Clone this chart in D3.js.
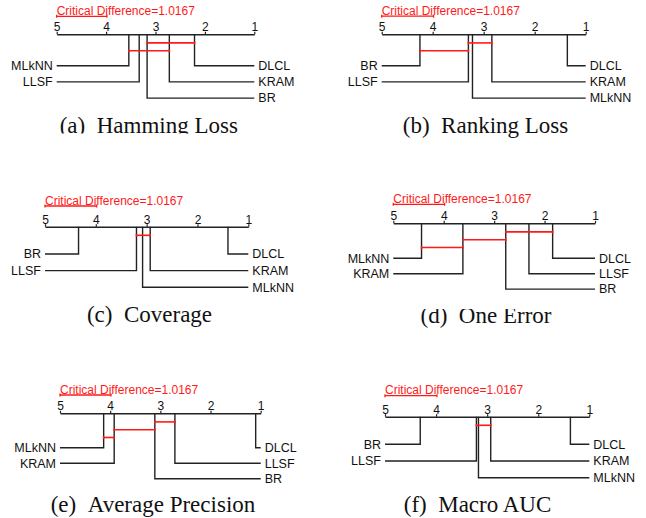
<!DOCTYPE html>
<html>
<head>
<meta charset="utf-8">
<script src="https://cdn.jsdelivr.net/npm/d3@7"></script>
<style>
  body { margin: 0; background: #fff; }
</style>
</head>
<body>
<svg id="chart" width="646" height="518"></svg>
<script>
// Data: average ranks (Friedman test) per measure, same order as methods
const methods = ["BR", "MLkNN", "LLSF", "KRAM", "DLCL"];
const hammingLoss      = [3.17, 3.54, 3.33, 2.72, 2.21];
const rankingLoss      = [4.25, 3.22, 3.30, 2.84, 1.36];
const coverage         = [4.34, 3.08, 3.20, 2.93, 1.40];
const oneError         = [2.77, 4.44, 2.31, 3.62, 1.84];
const averagePrecision = [3.11, 4.13, 2.71, 3.92, 1.10];
const macroAUC         = [4.31, 3.17, 3.21, 2.93, 1.37];

// groups of methods with no significant difference (from, to)
const hammingCliques  = [["BR", "DLCL"], ["MLkNN", "KRAM"]];
const rankingCliques  = [["LLSF", "KRAM"], ["BR", "LLSF"]];
const coverageCliques = [["LLSF", "KRAM"]];
const oneErrorCliques = [["BR", "DLCL"], ["KRAM", "BR"], ["MLkNN", "KRAM"]];
const avgPrecCliques  = [["BR", "LLSF"], ["KRAM", "BR"], ["MLkNN", "KRAM"]];
const macroAUCCliques = [["LLSF", "KRAM"]];

const criticalDifference = 1.0167;
const rankTicks = [5, 4, 3, 2, 1];
const panelTitles = ["(a)\u2002Hamming Loss", "(b)\u2002Ranking Loss", "(c)\u2002Coverage",
                     "(d)\u2002One Error", "(e)\u2002Average Precision", "(f)\u2002Macro AUC"];
const panelRanks   = [hammingLoss, rankingLoss, coverage, oneError, averagePrecision, macroAUC];
const panelCliques = [hammingCliques, rankingCliques, coverageCliques, oneErrorCliques, avgPrecCliques, macroAUCCliques];

// Layout of each sub-figure
const layout = [
  { x5: 56.7,  x1: 254.3, axisY: 34.3,  row0: 65.7,  step: 16.2, cdY: 16.3,  tx: 148.8, ty: 133,   clip: [0, 133.5] },
  { x5: 381.7, x1: 585.7, axisY: 34.3,  row0: 65.7,  step: 16.2, cdY: 16.2,  tx: 485.5, ty: 132.7, clip: null },
  { x5: 45,    x1: 248.3, axisY: 226.7, row0: 254,   step: 16.6, cdY: 206,   tx: 149.5, ty: 321.7, clip: null },
  { x5: 393.3, x1: 595,   axisY: 223.3, row0: 258.3, step: 15.4, cdY: 204.3, tx: 486,   ty: 322.5, clip: [309, 518] },
  { x5: 60,    x1: 260.7, axisY: 413.3, row0: 447.7, step: 15.5, cdY: 395,   tx: 153,   ty: 512.3, clip: null },
  { x5: 385,   x1: 589.3, axisY: 416.7, row0: 444.3, step: 16.7, cdY: 395.7, tx: 477.5, ty: 511.7, clip: null }
];

const RED = "#ff1a1a";
const LINE = "#222";
const sans = "'Liberation Sans', Arial, sans-serif";

const svg = d3.select("#chart");
svg.append("rect").attr("width", 646).attr("height", 518).attr("fill", "#fff");
const defs = svg.append("defs");

layout.forEach((L, p) => {
  const g = svg.append("g");
  const x = d3.scaleLinear().domain([5, 1]).range([L.x5, L.x1]);
  const ranks = panelRanks[p];
  const rankOf = {};
  methods.forEach((m, i) => { rankOf[m] = ranks[i]; });

  // critical difference bar + label
  g.append("text")
    .attr("x", L.x5)
    .attr("y", L.cdY - 1.5)
    .style("font-family", sans)
    .style("font-size", "12px")
    .attr("fill", RED)
    .text("Critical Difference=" + criticalDifference);

  const cdLine = [L.x5, x(5 - criticalDifference)];
  g.append("line")
    .attr("x1", cdLine[0]).attr("x2", cdLine[1])
    .attr("y1", L.cdY).attr("y2", L.cdY)
    .attr("stroke", RED).attr("stroke-width", 1.3);
  cdLine.forEach(cx => {
    g.append("line")
      .attr("x1", cx).attr("x2", cx)
      .attr("y1", L.cdY - 1.5).attr("y2", L.cdY + 1.5)
      .attr("stroke", RED).attr("stroke-width", 1.3);
  });

  // rank axis
  const axis = g.append("g")
    .attr("transform", `translate(0,${L.axisY})`)
    .call(d3.axisTop(x).tickValues(rankTicks).tickSize(2.5).tickSizeOuter(0).tickFormat(d3.format("d")));
  axis.select(".domain").attr("stroke", LINE).attr("stroke-width", 1.5);
  axis.selectAll(".tick line").attr("stroke", LINE).attr("stroke-width", 1.2);
  axis.selectAll(".tick text")
    .attr("y", -3)
    .attr("dy", null)
    .attr("fill", "#111")
    .style("font-family", sans)
    .style("font-size", "12px");

  // method lines: worst two on the left, rest on the right
  const sorted = methods.slice().sort((a, b) => rankOf[b] - rankOf[a]);
  const nLeft = Math.floor(methods.length / 2);
  const left = sorted.slice(0, nLeft);
  const right = sorted.slice(nLeft).reverse();

  function methodLine(m, row, side) {
    const mx = x(rankOf[m]);
    const ry = L.row0 + row * L.step;
    const endX = side === "left" ? L.x5 : L.x1;
    g.append("path")
      .attr("d", `M${mx},${L.axisY}V${ry}H${endX}`)
      .attr("fill", "none")
      .attr("stroke", LINE)
      .attr("stroke-width", 1.4);
    g.append("text")
      .attr("x", side === "left" ? endX - 4 : endX + 4)
      .attr("y", ry + 4.3)
      .attr("text-anchor", side === "left" ? "end" : "start")
      .style("font-family", sans)
      .style("font-size", "12.5px")
      .attr("fill", "#111")
      .text(m);
  }
  left.forEach((m, i) => methodLine(m, i, "left"));
  right.forEach((m, i) => methodLine(m, i, "right"));

  // cliques
  panelCliques[p].forEach((c, i) => {
    const cy = L.axisY + 8.6 + i * 7.8;
    const xs = [x(rankOf[c[0]]), x(rankOf[c[1]])];
    g.append("line")
      .attr("x1", xs[0]).attr("x2", xs[1])
      .attr("y1", cy).attr("y2", cy)
      .attr("stroke", RED).attr("stroke-width", 1.6);
    xs.forEach(cx => {
      g.append("line")
        .attr("x1", cx).attr("x2", cx)
        .attr("y1", cy - 1.3).attr("y2", cy + 1.3)
        .attr("stroke", RED).attr("stroke-width", 1.6);
    });
  });

  // sub-caption (some are cut off in the original figure)
  const title = g.append("text")
    .attr("x", L.tx)
    .attr("y", L.ty)
    .attr("text-anchor", "middle")
    .style("font-family", "'Liberation Serif', 'Times New Roman', serif")
    .style("font-size", "23px")
    .attr("fill", "#111")
    .text(panelTitles[p]);
  if (L.clip) {
    const id = "clip" + p;
    defs.append("clipPath").attr("id", id)
      .append("rect").attr("x", 0).attr("y", L.clip[0])
      .attr("width", 646).attr("height", L.clip[1] - L.clip[0]);
    title.attr("clip-path", `url(#${id})`);
  }
});
</script>
</body>
</html>
